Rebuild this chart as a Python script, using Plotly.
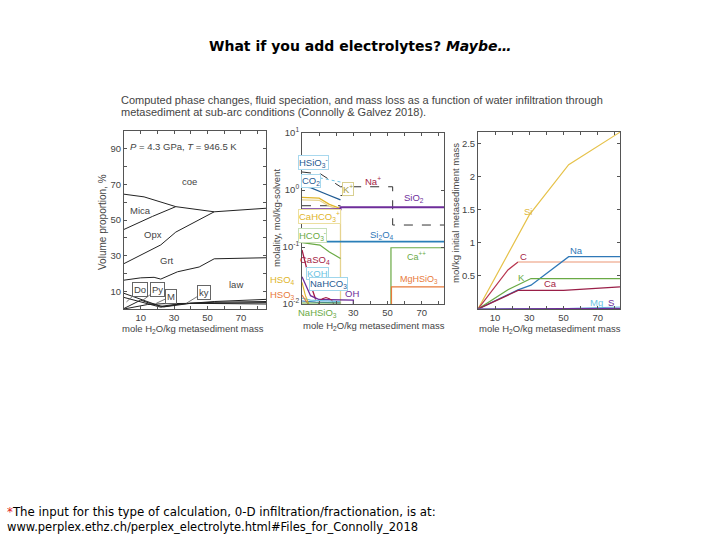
import plotly.graph_objects as go

W, H = 720, 540
FONT = "Liberation Sans, Arial, sans-serif"
SLIDE = "DejaVu Sans, sans-serif"
TXT = "#444444"
AX = "#555555"


def xdom(a, b):
    return [a / W, b / W]


def ydom(top, bottom):
    return [1 - bottom / H, 1 - top / H]


def px(x):
    return x / W


def py(y):
    return 1 - y / H


# ---------------- Panel 1: volume proportions ----------------
p1_coe_x = [0, 12, 31, 54, 85]
p1_coe_y = [64.5, 63, 57.5, 54.6, 56.6]
p1_mica_x = [0, 17, 31]
p1_mica_y = [44.7, 52, 57.5]
p1_opx_x = [0, 22, 31, 54]
p1_opx_y = [25.5, 36, 43.2, 54.6]
p1_grt_x = [0, 10, 18, 22, 32, 45, 54, 85]
p1_grt_y = [16.2, 17.5, 17.8, 16.8, 20.9, 23.6, 28.2, 28.8]
p1_b1_x = [0, 10, 22, 30, 54, 85]
p1_b1_y = [8.8, 5.5, 1.5, 2.5, 4.2, 5.4]
p1_b2_x = [0, 12, 22, 35, 54, 85]
p1_b2_y = [6.5, 3.5, 1.0, 3.0, 3.8, 4.2]
p1_b3_x = [0, 10, 16, 24, 40, 85]
p1_b3_y = [0.3, 5.0, 3.0, 1.2, 3.2, 2.8]
p1_b4_x = [0, 14, 24, 54, 85]
p1_b4_y = [0, 2.5, 3.0, 3.5, 3.6]

# ---------------- Panel 2: molality ----------------
na_x = [0, 11, 22.5, 53, 53, 83]
na_y = [2.07, 1.9, 1.14, 1.14, 0.243, 0.243]
k_x = [0, 22.5, None, 22.5, 30, 30]
k_y = [0.53, 0.53, None, 0.8, 0.8, 1.14]
hsio3_x = [0, 12, 22.5]
hsio3_y = [1.75, 1.6, 1.38]
co2_x = [0, 5, 14, 22.5]
co2_y = [1.14, 1.1, 0.85, 0.67]
cahco3_x = [0, 10, 16, 22.5]
cahco3_y = [0.74, 0.72, 0.56, 0.47]
cahco3b_x = [0, 10, 16, 22.5, 22.5]
cahco3b_y = [0.67, 0.66, 0.52, 0.45, 0.01]
sio2_x = [0, 22.5, 22.5, 83]
sio2_y = [0.46, 0.46, 0.50, 0.50]
si2o4_x = [0, 83]
si2o4_y = [0.124, 0.124]
hco3_x = [0, 10.5, 16, 22.5]
hco3_y = [0.119, 0.108, 0.082, 0.063]
caso4_x = [0, 2, 4, 6, 8]
caso4_y = [0.089, 0.05, 0.03, 0.018, 0.012]
oh_x = [0, 5, 10, 30, 30]
oh_y = [0.03, 0.014, 0.012, 0.0117, 0.01]
arc_x = [9.5, 10.5, 12, 14, 16, 17.5, 18.5]
arc_y = [0.01, 0.0115, 0.0124, 0.013, 0.0124, 0.0115, 0.01]
koh_x = [0, 5, 22.5]
koh_y = [0.0127, 0.0117, 0.0110]
nahco3_x = [0, 8, 22.5]
nahco3_y = [0.0113, 0.0108, 0.0104]
hso4_x = [0, 2, 4]
hso4_y = [0.024, 0.014, 0.01]
hso3_x = [0, 2, 3.5]
hso3_y = [0.0144, 0.0117, 0.01]
nahsio3_x = [0, 22.5]
nahsio3_y = [0.0104, 0.0104]
ca2_x = [52, 52, 83]
ca2_y = [0.01, 0.097, 0.097]
mghsio3_x = [52.3, 52.3, 83]
mghsio3_y = [0.01, 0.020, 0.020]

# ---------------- Panel 3: mass loss ----------------
si_x = [0, 30, 53, 83]
si_y = [0, 1.42, 2.18, 2.67]
c_rise_x = [0, 17.5, 23.4]
c_rise_y = [0, 0.59, 0.71]
c_flat_x = [23.4, 83]
c_flat_y = [0.71, 0.71]
nam_x = [0, 23.4, 31, 53, 83]
nam_y = [0, 0.29, 0.36, 0.79, 0.79]
km_x = [0, 17.5, 31, 83]
km_y = [0, 0.29, 0.46, 0.46]
cam_x = [0, 23.4, 50, 83]
cam_y = [0, 0.28, 0.28, 0.335]
mg_x = [0, 52, 83]
mg_y = [0, 0.005, 0.03]
s_x = [0, 83]
s_y = [0, 0.01]

fig = go.Figure()


def line(x, y, ax, color, width=1.1, dash="solid"):
    fig.add_trace(go.Scatter(x=x, y=y, xaxis="x" + ax, yaxis="y" + ax,
                             mode="lines", line=dict(color=color, width=width, dash=dash),
                             hoverinfo="skip", showlegend=False))


BLK = "#222222"
for xs, ys in [(p1_coe_x, p1_coe_y), (p1_mica_x, p1_mica_y), (p1_opx_x, p1_opx_y),
               (p1_grt_x, p1_grt_y), (p1_b1_x, p1_b1_y), (p1_b2_x, p1_b2_y),
               (p1_b3_x, p1_b3_y), (p1_b4_x, p1_b4_y)]:
    line(xs, ys, "", BLK, 1.0)

GOLD = "#e0b52a"
LGOLD = "#e6d38f"
BLUE = "#2f78b7"
DBLUE = "#1f5a92"
LBLUE = "#6cc3e3"
GREEN = "#6aaa45"
CRIM = "#a51c45"
PURP = "#6e2d9a"
ORNG = "#e87a3a"

line(na_x, na_y, "2", "#333333", 1.0, "dash")
line(k_x, k_y, "2", "#333333", 1.0, "dash")
line(hsio3_x, hsio3_y, "2", LBLUE, 1.0, "dot")
line(co2_x, co2_y, "2", DBLUE, 1.3)
line(cahco3_x, cahco3_y, "2", GOLD, 1.3)
line(cahco3b_x, cahco3b_y, "2", LGOLD, 1.3)
line(sio2_x, sio2_y, "2", PURP, 2.0)
line(si2o4_x, si2o4_y, "2", "#2a7fb8", 1.6)
line(hco3_x, hco3_y, "2", GREEN, 1.2)
line(caso4_x, caso4_y, "2", CRIM, 1.3)
line(oh_x, oh_y, "2", PURP, 1.3)
line(arc_x, arc_y, "2", CRIM, 1.1)
line(koh_x, koh_y, "2", LBLUE, 1.1)
line(nahco3_x, nahco3_y, "2", BLUE, 1.1)
line(hso4_x, hso4_y, "2", GOLD, 1.1)
line(hso3_x, hso3_y, "2", ORNG, 1.1)
line(nahsio3_x, nahsio3_y, "2", GREEN, 1.1)
line(ca2_x, ca2_y, "2", GREEN, 1.2)
line(mghsio3_x, mghsio3_y, "2", ORNG, 1.2)

line(si_x, si_y, "3", "#e6c24a", 1.2)
line(c_rise_x, c_rise_y, "3", "#b8364f", 1.2)
line(c_flat_x, c_flat_y, "3", "#f2b9a2", 1.6)
line(nam_x, nam_y, "3", BLUE, 1.3)
line(km_x, km_y, "3", GREEN, 1.3)
line(cam_x, cam_y, "3", "#9a1f48", 1.3)
line(mg_x, mg_y, "3", LBLUE, 1.1)
line(s_x, s_y, "3", PURP, 1.1)


def axis(dom, rng, tickvals, ticktext, anchor, log=False):
    d = dict(domain=dom, range=rng, tickvals=tickvals, ticktext=ticktext,
             anchor=anchor, showline=True, mirror="ticks", linecolor=AX, linewidth=1,
             ticks="inside", ticklen=3, tickcolor=AX, showgrid=False, zeroline=False,
             automargin=False,
             tickfont=dict(family=FONT, size=9.5, color=TXT), fixedrange=True)
    if log:
        d["type"] = "log"
    return d


xt = [10, 20, 30, 40, 50, 60, 70, 80]
xtt = ["10", "", "30", "", "50", "", "70", ""]
fig.update_layout(
    xaxis=axis(xdom(124, 266), [0, 85], xt, xtt, "y"),
    yaxis=axis(ydom(131, 309), [0, 100], [10, 20, 30, 40, 50, 60, 70, 80, 90],
               ["10", "", "30", "", "50", "", "70", "", "90"], "x"),
    xaxis2=axis(xdom(302, 444), [0, 83], xt, ["", "", "30", "", "50", "", "70", ""], "y2"),
    yaxis2=axis(ydom(133, 304), [-2, 1], [0.01, 0.1, 1, 10],
                ["10<sup>-2</sup>", "10<sup>-1</sup>", "10<sup>0</sup>", "10<sup>1</sup>"], "x2", log=True),
    xaxis3=axis(xdom(478, 620), [0, 83], xt, xtt, "y3"),
    yaxis3=axis(ydom(131.5, 309), [0, 2.68], [0, 0.5, 1, 1.5, 2, 2.5],
                ["", "0.5", "1", "1.5", "2", "2.5"], "x3"),
)

ann = []


def t(text, x, y, xref, yref, size=10, color=TXT, family=FONT, **kw):
    d = dict(text=text, x=x, y=y, xref=xref, yref=yref, showarrow=False,
             font=dict(family=family, size=size, color=color))
    d.update(kw)
    ann.append(d)


# slide title and footnote
t("<b>What if you add electrolytes? <i>Maybe…</i></b>", px(360), py(46), "paper", "paper",
  size=14, color="#000000", family=SLIDE, xanchor="center", yanchor="middle")
t("<span style='color:#e02020'>*</span>The input for this type of calculation, 0-D infiltration/fractionation, is at:",
  px(5), py(512), "paper", "paper", size=11.8, color="#000000", family=SLIDE,
  xanchor="left", yanchor="middle")
t("www.perplex.ethz.ch/perplex_electrolyte.html#Files_for_Connolly_2018",
  px(5), py(527), "paper", "paper", size=11.5, color="#000000", family=SLIDE,
  xanchor="left", yanchor="middle")

# figure caption
t("Computed phase changes, fluid speciation, and mass loss as a function of water infiltration through",
  px(119), py(100), "paper", "paper", size=11, xanchor="left", yanchor="middle")
t("metasediment at sub-arc conditions (Connolly &amp; Galvez 2018).",
  px(119), py(112), "paper", "paper", size=11, xanchor="left", yanchor="middle")

# axis titles
XT = "mole H<sub>2</sub>O/kg metasediment mass"
t(XT, px(193), py(329), "paper", "paper", size=9.5, xanchor="center", yanchor="middle")
t(XT, px(374), py(326), "paper", "paper", size=9.5, xanchor="center", yanchor="middle")
t(XT, px(550), py(329), "paper", "paper", size=9.5, xanchor="center", yanchor="middle")
t("Volume proportion, %", px(102), py(222), "paper", "paper", size=10, textangle=-90,
  xanchor="center", yanchor="middle")
t("molality, mol/kg-solvent", px(277), py(218), "paper", "paper", size=9.5, textangle=-90,
  xanchor="center", yanchor="middle")
t("mol/kg initial metasediment mass", px(456), py(213), "paper", "paper", size=9.5, textangle=-90,
  xanchor="center", yanchor="middle")

# panel 1 labels
t("<i>P</i> = 4.3 GPa, <i>T</i> = 946.5 K", 2.4, 91.2, "x", "y", size=9.5, xanchor="left")
t("coe", 39, 71.5, "x", "y", size=9.5)
t("Mica", 9.6, 55.6, "x", "y", size=9.5)
t("Opx", 17.5, 42, "x", "y", size=9.5)
t("Grt", 25.6, 27.5, "x", "y", size=9.5)
t("law", 67, 14, "x", "y", size=9.5)
for txt, x, y, axo, ayo in [("Do", 1.5, 4, 13, -12), ("Py", 11.4, 5, 14.5, -11),
                            ("M", 19.3, 3.2, 15, -7), ("ky", 37.3, 3.2, 18, -11)]:
    ann.append(dict(text=txt, x=x, y=y, xref="x", yref="y", showarrow=True, arrowhead=0,
                    arrowwidth=0.8, arrowcolor="#555", ax=axo, ay=ayo,
                    bgcolor="white", bordercolor="#666", borderwidth=1, borderpad=1,
                    font=dict(family=FONT, size=9.5, color=TXT)))


# panel 2 labels (y in log10 units)
def boxed(text, x, y, color, border=None, size=9.5, xref="x2", yref="y2"):
    d = dict(text=text, x=x, y=y, xref=xref, yref=yref, showarrow=False,
             font=dict(family=FONT, size=size, color=color))
    if border:
        d.update(bgcolor="white", bordercolor=border, borderwidth=1, borderpad=0)
    ann.append(d)


boxed("HSiO<sub>3</sub><sup>-</sup>", 7, 0.474, DBLUE, "#a8d8ee")
boxed("CO<sub>2</sub>", 5.5, 0.158, DBLUE, "#a8d8ee")
boxed("Na<sup>+</sup>", 41.5, 0.16, CRIM)
boxed("K<sup>+</sup>", 26.6, 0.026, "#a59a3a", "#d8cf90")
boxed("SiO<sub>2</sub>", 65.5, -0.146, PURP)
boxed("CaHCO<sub>3</sub><sup>+</sup>", 10.5, -0.468, GOLD, "#ecdfa0")
boxed("HCO<sub>3</sub><sup>-</sup>", 6.4, -0.79, GREEN, "#c8e0b8")
boxed("Si<sub>2</sub>O<sub>4</sub>", 46.6, -0.79, BLUE)
boxed("CaSO<sub>4</sub>", 7.6, -1.228, CRIM)
boxed("Ca<sup>++</sup>", 67, -1.158, GREEN, size=9)
boxed("MgHSiO<sub>3</sub>", 68.4, -1.567, ORNG, size=9)
boxed("KOH", 8.8, -1.46, LBLUE, "#9fd6ec")
boxed("NaHCO<sub>3</sub>", 15.5, -1.65, DBLUE, "#9fd6ec")
boxed("OH", 29.5, -1.81, PURP)
boxed("HSO<sub>4</sub>", px(282), py(280), GOLD, xref="paper", yref="paper")
boxed("HSO<sub>3</sub>", px(282), py(294.5), ORNG, xref="paper", yref="paper")
boxed("NaHSiO<sub>3</sub>", px(317), py(312.5), GREEN, xref="paper", yref="paper")

# panel 3 labels
boxed("Si", 29, 1.47, "#e0b83a", xref="x3", yref="y3")
boxed("C", 26.3, 0.80, CRIM, xref="x3", yref="y3")
boxed("Na", 57.3, 0.88, BLUE, xref="x3", yref="y3")
boxed("K", 25.3, 0.48, GREEN, xref="x3", yref="y3")
boxed("Ca", 42.6, 0.38, CRIM, xref="x3", yref="y3")
boxed("Mg", 69.1, 0.096, LBLUE, xref="x3", yref="y3")
boxed("S", 78, 0.096, PURP, xref="x3", yref="y3")

fig.update_layout(
    width=W, height=H, margin=dict(l=0, r=0, t=0, b=0, autoexpand=False),
    paper_bgcolor="white", plot_bgcolor="white",
    showlegend=False, hovermode=False, annotations=ann,
    font=dict(family=FONT, color=TXT),
)

fig.write_html("out.html", config={"displayModeBar": False},
               post_script="document.body.style.margin='0';document.body.style.overflow='hidden';")
